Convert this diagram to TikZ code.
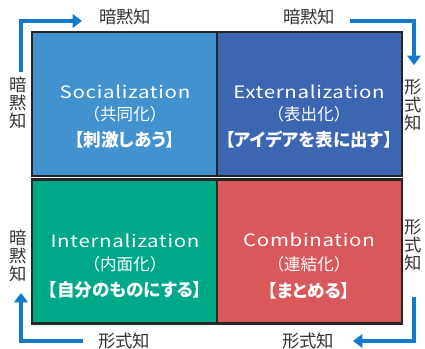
\documentclass[tikz,border=0pt]{standalone}
\usepackage{fontspec}
\setmainfont{Noto Sans CJK JP}[RawFeature=+palt]
\newfontfamily\enfont{Noto Sans CJK JP}[FakeStretch=1.2,LetterSpace=4]
\newfontfamily\jpfull{Noto Sans CJK JP}
\usetikzlibrary{arrows.meta}
\definecolor{qtl}{RGB}{66,146,207}
\definecolor{qtr}{RGB}{59,103,178}
\definecolor{qbl}{RGB}{0,168,138}
\definecolor{qbr}{RGB}{217,89,91}
\definecolor{arrowblue}{RGB}{16,122,204}
\definecolor{labelgray}{RGB}{51,51,51}
\tikzset{
  quad/.style={draw=black!85, line width=2.2pt, minimum width=185*0.75pt, minimum height=144*0.75pt, inner sep=0pt},
  entext/.style={text=white, font=\enfont\fontsize{12.8pt}{14pt}\selectfont, inner sep=0pt},
  jptext/.style={text=white, font=\jpfull\fontsize{12.4pt}{14pt}\selectfont, inner sep=0pt},
  keytext/.style={text=white, font=\bfseries\fontsize{13.2pt}{15pt}\selectfont, inner sep=0pt},
  sidelabel/.style={text=labelgray, font=\fontsize{13pt}{14pt}\selectfont, inner sep=0pt},
  vlabel/.style={sidelabel, align=center, font=\fontsize{13pt}{13.4pt}\selectfont},
  cycle/.style={draw=arrowblue, line width=3.6pt, -{Triangle[length=7pt,width=10pt]}}
}
\begin{document}
\begin{tikzpicture}[x=0.75pt,y=-0.75pt]
\useasboundingbox (0,0) rectangle (425,349);
% quadrants
\node[quad, fill=qtl] (soc) at (124.5,104) {};
\node[quad, fill=qtr] (ext) at (309.5,104) {};
\node[quad, fill=qbl] (int) at (124.5,251.5) {};
\node[quad, fill=qbr] (com) at (309.5,251.5) {};
% quadrant texts
\node[entext] (socen) at (125,92) {Socialization};
\node[jptext] (socjp) at (125,114) {（共同化）};
\node[keytext] (sockey) at (125,140) {【刺激しあう】};
\node[entext] (exten) at (309,92) {Externalization};
\node[jptext] (extjp) at (309,114) {（表出化）};
\node[keytext] (extkey) at (309,140) {【アイデアを表に出す】};
\node[entext] (inten) at (125,241) {Internalization};
\node[jptext] (intjp) at (125,264) {（内面化）};
\node[keytext] (intkey) at (125,290) {【自分のものにする】};
\node[entext] (comen) at (309,240) {Combination};
\node[jptext] (comjp) at (309,264) {（連結化）};
\node[keytext] (comkey) at (309,291) {【まとめる】};
% side labels
\node[sidelabel] (ttl) at (125,17) {暗黙知};
\node[sidelabel] (ttr) at (309,17) {暗黙知};
\node[sidelabel] (tbl) at (124,341) {形式知};
\node[sidelabel] (tbr) at (308,341) {形式知};
\node[vlabel] (ltop) at (18,103) {暗\\黙\\知};
\node[vlabel] (lbot) at (18,256) {暗\\黙\\知};
\node[vlabel] (rtop) at (413,105) {形\\式\\知};
\node[vlabel] (rbot) at (413,245) {形\\式\\知};
% cycle arrows
\coordinate (a1s) at (21,72);  \coordinate (a1c) at (21,21);  \coordinate (a1e) at (82,21);
\coordinate (a2s) at (350,21); \coordinate (a2c) at (414,21); \coordinate (a2e) at (414,65);
\coordinate (a3s) at (414,297);\coordinate (a3c) at (414,341);\coordinate (a3e) at (353,341);
\coordinate (a4s) at (83,341); \coordinate (a4c) at (21,341); \coordinate (a4e) at (21,293);
\draw[cycle] (a1s) -- (a1c) -- (a1e);
\draw[cycle] (a2s) -- (a2c) -- (a2e);
\draw[cycle] (a3s) -- (a3c) -- (a3e);
\draw[cycle] (a4s) -- (a4c) -- (a4e);
\end{tikzpicture}
\end{document}
